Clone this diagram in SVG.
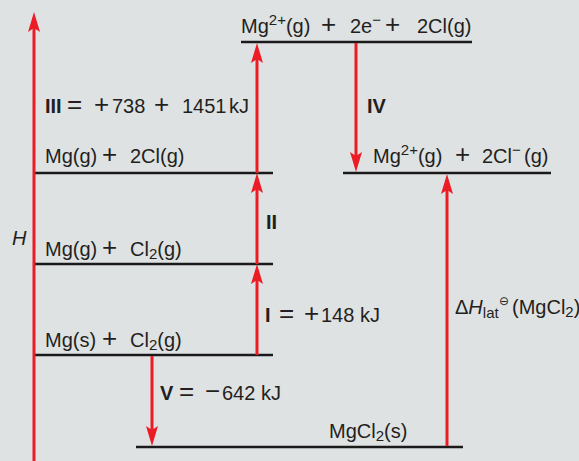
<svg xmlns="http://www.w3.org/2000/svg" width="579" height="461" viewBox="0 0 579 461">
<style>
text{font-family:"Liberation Sans",Arial,sans-serif;font-size:20px;fill:#231f20}
.b{font-weight:bold}
.op{font-size:26px}
.lvl{stroke:#1a1a1a;stroke-width:2.5;fill:none}
.arr{stroke:#ec1c24;stroke-width:3;fill:none;marker-end:url(#ah)}
.sm{font-size:15px}
</style>
<defs>
<marker id="ah" viewBox="-20 -6 20 12" refX="-6" refY="0" markerWidth="20" markerHeight="12" markerUnits="userSpaceOnUse" orient="auto">
<path d="M0,0 L-20,-6 L-16,0 L-20,6 Z" fill="#ec1c24"/>
</marker>
</defs>
<rect x="0" y="0" width="579" height="461" fill="#dfe2e3"/>

<g id="level-ions-gas-atoms">
<line class="lvl" x1="241" y1="42" x2="472" y2="42"/>
<text y="33"><tspan x="241">Mg<tspan class="sm" dy="-8">2+</tspan><tspan dy="8">(g)</tspan></tspan><tspan x="321" class="op">+</tspan><tspan x="350">2e<tspan class="sm" dy="-8">−</tspan></tspan><tspan x="385" dy="8" class="op">+</tspan><tspan x="417">2Cl(g)</tspan></text>
</g>

<g id="level-mg-gas-cl-atoms">
<line class="lvl" x1="35" y1="173" x2="273" y2="173"/>
<text y="163"><tspan x="45">Mg(g)</tspan><tspan x="102" class="op">+</tspan><tspan x="130">2Cl(g)</tspan></text>
</g>

<g id="level-gas-ions">
<line class="lvl" x1="343" y1="173" x2="551" y2="173"/>
<text y="163"><tspan x="373">Mg<tspan class="sm" dy="-8">2+</tspan><tspan dy="8">(g)</tspan></tspan><tspan x="455" class="op">+</tspan><tspan x="482">2Cl<tspan class="sm" dy="-8">−</tspan></tspan><tspan x="524" dy="8">(g)</tspan></text>
</g>

<g id="level-mg-gas-cl2">
<line class="lvl" x1="35" y1="264" x2="273" y2="264"/>
<text y="256"><tspan x="45">Mg(g)</tspan><tspan x="102" class="op">+</tspan><tspan x="130">Cl<tspan class="sm" dy="3">2</tspan><tspan dy="-3">(g)</tspan></tspan></text>
</g>

<g id="level-mg-solid-cl2">
<line class="lvl" x1="35" y1="355" x2="273" y2="355"/>
<text y="347"><tspan x="45">Mg(s)</tspan><tspan x="102" class="op">+</tspan><tspan x="130">Cl<tspan class="sm" dy="3">2</tspan><tspan dy="-3">(g)</tspan></tspan></text>
</g>

<g id="level-mgcl2-solid">
<line class="lvl" x1="136" y1="447" x2="463" y2="447"/>
<text x="329" y="438">MgCl<tspan class="sm" dy="3">2</tspan><tspan dy="-3">(s)</tspan></text>
</g>

<g id="connectors">
<line id="axis-H" class="arr" x1="34" y1="461" x2="34" y2="18"/>
<line id="step-I" class="arr" x1="257" y1="355" x2="257" y2="270"/>
<line id="step-II" class="arr" x1="257" y1="264" x2="257" y2="179"/>
<line id="step-III" class="arr" x1="257" y1="173" x2="257" y2="49"/>
<line id="step-IV" class="arr" x1="356" y1="43" x2="356" y2="166"/>
<line id="step-V" class="arr" x1="152" y1="356" x2="152" y2="440"/>
<line id="step-lattice" class="arr" x1="447" y1="446" x2="447" y2="180"/>
</g>

<g id="labels">
<text x="12" y="245" font-style="italic">H</text>
<text y="113"><tspan x="45" class="b">III</tspan><tspan x="67" class="op">=</tspan><tspan x="94" class="op">+</tspan><tspan x="112">738</tspan><tspan x="154" class="op">+</tspan><tspan x="182">1451</tspan><tspan x="229">kJ</tspan></text>
<text x="367" y="113" class="b">IV</text>
<text x="266" y="229" class="b">II</text>
<text y="322"><tspan x="265" class="b">I</tspan><tspan x="279" class="op">=</tspan><tspan x="304" class="op">+</tspan><tspan x="321">148</tspan><tspan x="360">kJ</tspan></text>
<text y="400"><tspan x="160" class="b">V</tspan><tspan x="179" class="op">=</tspan><tspan x="205" class="op">−</tspan><tspan x="222">642</tspan><tspan x="261">kJ</tspan></text>
<text y="314"><tspan x="455">Δ</tspan><tspan font-style="italic">H</tspan><tspan class="sm" dy="4">lat</tspan><tspan x="499" dy="-13" font-size="12" font-family="DejaVu Sans">⊖</tspan><tspan x="512" dy="9">(MgCl</tspan><tspan class="sm" dy="3">2</tspan><tspan dy="-3">)</tspan></text>
</g>
</svg>
